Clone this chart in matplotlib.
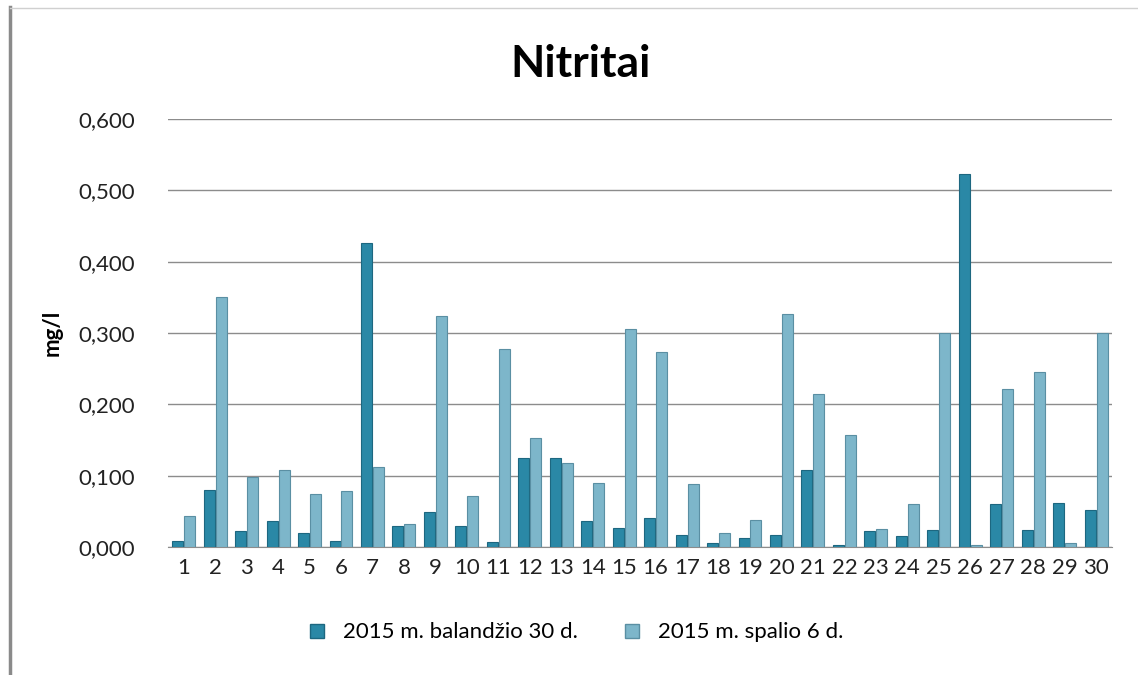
import numpy as np
import matplotlib.pyplot as plt
from matplotlib.lines import Line2D
from matplotlib.ticker import FuncFormatter

# duomenys nuskaityti nuo grafiko
vietos = [str(i) for i in range(1, 31)]
balandzio = [0.008, 0.080, 0.022, 0.036, 0.019, 0.009, 0.426, 0.030, 0.049, 0.030,
             0.007, 0.125, 0.125, 0.036, 0.026, 0.040, 0.017, 0.005, 0.012, 0.017,
             0.108, 0.003, 0.022, 0.016, 0.024, 0.523, 0.060, 0.024, 0.062, 0.052]
spalio = [0.044, 0.350, 0.098, 0.108, 0.074, 0.078, 0.112, 0.032, 0.324, 0.072,
          0.278, 0.153, 0.118, 0.090, 0.305, 0.273, 0.088, 0.019, 0.038, 0.326,
          0.214, 0.157, 0.025, 0.061, 0.300, 0.003, 0.222, 0.245, 0.005, 0.300]
serijos = ["2015 m. balandžio 30 d.", "2015 m. spalio 6 d."]

plt.rcParams['font.family'] = ['Lato', 'DejaVu Sans']

tamsi = '#2a88a6'
sviesi = '#7db6ca'

fig = plt.figure(figsize=(11.38, 6.75), dpi=100)
ax = fig.add_axes([0.1476, 0.1896, 0.8294, 0.6341])

x = np.arange(len(vietos))
w = 0.35
ax.bar(x - 0.19, balandzio, w, color=tamsi, edgecolor='#1d6780', linewidth=0.8, zorder=3)
ax.bar(x + 0.19, spalio, w, color=sviesi, edgecolor='#5a8fa3', linewidth=0.8, zorder=3)

ax.set_xlim(-0.5, len(vietos) - 0.5)
ax.set_ylim(0, 0.6)
ax.set_yticks(np.arange(0, 0.61, 0.1))
ax.yaxis.set_major_formatter(FuncFormatter(lambda v, p: f"{v:.3f}".replace('.', ',')))
ax.set_xticks(x)
ax.set_xticklabels(vietos)
ax.grid(axis='y', color='#8c8c8c', linewidth=1.0, zorder=0)
for s in ['top', 'right', 'left']:
    ax.spines[s].set_visible(False)
ax.spines['bottom'].set_color('#8c8c8c')
ax.tick_params(axis='y', length=0, labelsize=16, colors='#222222', pad=24)
ax.tick_params(axis='x', length=0, labelsize=16, colors='#222222', pad=8)

ax.set_ylabel('mg/l', fontsize=16, fontweight='bold')
ax.yaxis.set_label_coords(-0.112, 0.5)
fig.text(0.51, 0.905, 'Nitritai', ha='center', va='center', fontsize=32, fontweight='bold')

handles = [Line2D([], [], marker='s', linestyle='', markersize=10, markerfacecolor=tamsi, markeredgecolor='#1d6780'),
           Line2D([], [], marker='s', linestyle='', markersize=10, markerfacecolor=sviesi, markeredgecolor='#5a8fa3')]
fig.legend(handles, serijos, loc='center', bbox_to_anchor=(0.5, 0.063), ncol=2, frameon=False,
           fontsize=16, handletextpad=0.2, columnspacing=1.4)

# remelis aplink diagrama
fig.add_artist(Line2D([0.009, 0.009], [0.0, 0.99], color='#8a8a8a', linewidth=2.5, transform=fig.transFigure))
fig.add_artist(Line2D([0.009, 1.0], [0.988, 0.988], color='#d0d0d0', linewidth=1, transform=fig.transFigure))

fig.savefig('out.png', dpi=100)
